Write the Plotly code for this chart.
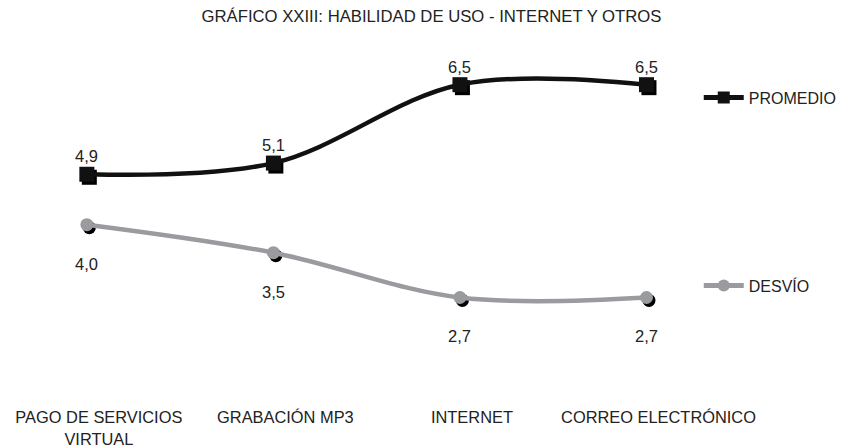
import plotly.graph_objects as go

# Categories and series values
categories = ["PAGO DE SERVICIOS<br>VIRTUAL", "GRABACIÓN MP3", "INTERNET", "CORREO ELECTRÓNICO"]
promedio = [4.9, 5.1, 6.5, 6.5]
desvio = [4.0, 3.5, 2.7, 2.7]

W, H = 842, 448
ML, MR, MT, MB = 0, 0, 40, 40
FONT = "Liberation Sans, Arial, sans-serif"
BLACK = "#111111"
GRAY = "#9a9b9f"

xs = list(range(len(categories)))

# pixel-based shadow offset converted into data units
x_range = [-0.4656, 3.989]
y_range = [0.762, 7.298]
px_per_x = (W - ML - MR) / (x_range[1] - x_range[0])
px_per_y = (H - MT - MB) / (y_range[1] - y_range[0])
dx, dy = 2.5 / px_per_x, -3.0 / px_per_y

fig = go.Figure()

# marker shadows
for vals, sym, size in [(promedio, "square", 15), (desvio, "circle", 13)]:
    fig.add_trace(go.Scatter(
        x=[x + dx for x in xs], y=[v + dy for v in vals], mode="markers",
        marker=dict(symbol=sym, size=size, color="#000000"),
        showlegend=False, hoverinfo="skip"))

fig.add_trace(go.Scatter(
    x=xs, y=promedio, name="PROMEDIO", mode="lines+markers",
    line=dict(color=BLACK, width=4.5, shape="spline", smoothing=1.0),
    marker=dict(symbol="square", size=15, color=BLACK),
    legend="legend"))
fig.add_trace(go.Scatter(
    x=xs, y=desvio, name="DESVÍO", mode="lines+markers",
    line=dict(color=GRAY, width=4.5, shape="spline", smoothing=1.0),
    marker=dict(symbol="circle", size=13, color=GRAY),
    legend="legend2"))

annotations = []
for x, v in zip(xs, promedio):
    annotations.append(dict(x=x, y=v, text=f"{v:.1f}".replace(".", ","), showarrow=False,
                            yshift=18, font=dict(size=16.5, color="#222222", family=FONT)))
for x, v in zip(xs, desvio):
    annotations.append(dict(x=x, y=v, text=f"{v:.1f}".replace(".", ","), showarrow=False,
                            yshift=-39, font=dict(size=16.5, color="#222222", family=FONT)))

legend_style = dict(font=dict(size=16, color="#222222", family=FONT),
                    bgcolor="rgba(0,0,0,0)", xanchor="left", yanchor="middle",
                    itemwidth=40, itemsizing="constant")

fig.update_layout(
    width=W, height=H,
    margin=dict(l=ML, r=MR, t=MT, b=MB),
    paper_bgcolor="white", plot_bgcolor="white",
    font=dict(family=FONT, size=16, color="#222222"),
    title=dict(text="GRÁFICO XXIII: HABILIDAD DE USO - INTERNET Y OTROS",
               x=431.5 / W, xanchor="center", y=1 - 16 / H, yanchor="middle",
               font=dict(size=16.7, family=FONT, color="#222222")),
    xaxis=dict(range=x_range, tickmode="array", tickvals=xs, ticktext=categories,
               showgrid=False, zeroline=False, showline=False, ticks="",
               ticklabelshift=12, tickfont=dict(size=16.4, family=FONT, color="#222222")),
    yaxis=dict(range=y_range, visible=False, showgrid=False, zeroline=False),
    legend=dict(x=708 / W, y=(H - MB - 98) / (H - MT - MB), **legend_style),
    legend2=dict(x=708 / W, y=(H - MB - 287) / (H - MT - MB), **legend_style),
    annotations=annotations,
)

fig.write_html("out.html")
